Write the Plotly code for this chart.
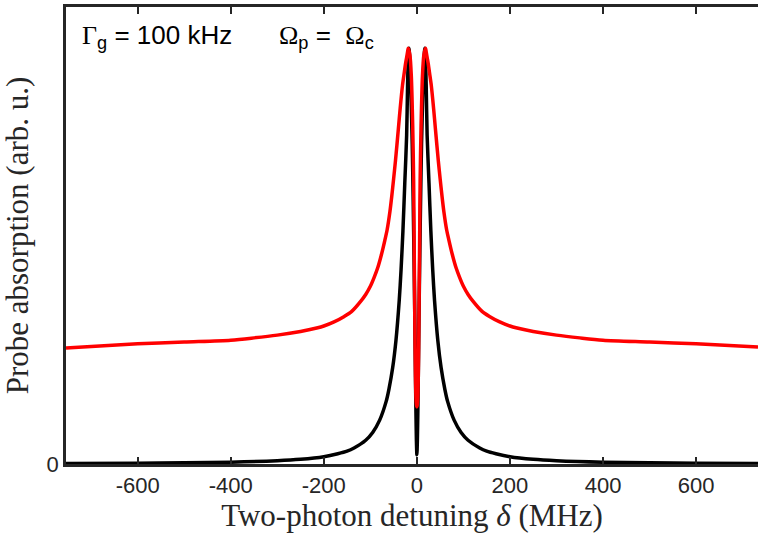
import plotly.graph_objects as go

# Two-photon detuning (MHz) and probe absorption (arb. u.)
detuning_black = [-754, -600, -500, -400, -300, -250, -200, -170, -150, -135, -110, -95, -80, -66, -60, -52, -45, -38, -34, -30, -26, -22, -20, -18.5, -17,
                  -15.5, -13, -10, -8, -6, -4.5, -3, -2, -1, 0,
                  1, 2, 3, 4.5, 6, 8, 10, 13, 15.5,
                  17, 18.5, 20, 22, 26, 30, 34, 38, 45, 52, 60, 66, 80, 95, 110, 135, 150, 170, 200, 250, 300, 400, 500, 600, 733]
absorption_black = [0.0012, 0.0018, 0.0026, 0.004, 0.0072, 0.0103, 0.016, 0.0224, 0.028, 0.035, 0.052, 0.069, 0.096, 0.137, 0.164, 0.211, 0.27, 0.357, 0.425, 0.51, 0.615, 0.72, 0.83, 0.885, 0.91,
                    0.89, 0.82, 0.70, 0.58, 0.44, 0.32, 0.19, 0.11, 0.05, 0.02,
                    0.05, 0.11, 0.19, 0.32, 0.44, 0.58, 0.70, 0.82, 0.89,
                    0.91, 0.885, 0.83, 0.72, 0.615, 0.51, 0.425, 0.357, 0.27, 0.211, 0.164, 0.137, 0.096, 0.069, 0.052, 0.035, 0.028, 0.0224, 0.016, 0.0103, 0.0072, 0.004, 0.0026, 0.0018, 0.0012]

detuning_red = [-754, -600, -500, -400, -350, -300, -250, -213, -200, -178, -156, -140, -120, -110, -100, -92, -84, -76, -69, -64, -58, -54, -50, -46, -43, -40, -36, -31, -27, -24.5, -22, -20, -18.6,
                -15, -12, -9, -7, -6, -5, -4, -3, -2, -1, 0,
                1, 2, 3, 4, 5, 6, 7, 9, 12, 15,
                18.6, 20, 22, 24.5, 27, 31, 36, 40, 43, 46, 50, 54, 58, 64, 69, 76, 84, 92, 100, 110, 120, 140, 156, 178, 200, 213, 250, 300, 350, 400, 500, 600, 733]
absorption_red = [0.254, 0.263, 0.267, 0.271, 0.276, 0.282, 0.290, 0.298, 0.302, 0.311, 0.323, 0.334, 0.357, 0.371, 0.389, 0.408, 0.430, 0.459, 0.489, 0.512, 0.552, 0.586, 0.624, 0.664, 0.697, 0.731, 0.777, 0.828, 0.857, 0.875, 0.890, 0.902, 0.910,
                  0.895, 0.85, 0.74, 0.62, 0.50, 0.38, 0.27, 0.19, 0.145, 0.13, 0.125,
                  0.13, 0.145, 0.19, 0.27, 0.38, 0.50, 0.62, 0.74, 0.85, 0.895,
                  0.910, 0.902, 0.890, 0.875, 0.857, 0.828, 0.777, 0.731, 0.697, 0.664, 0.624, 0.586, 0.552, 0.512, 0.489, 0.459, 0.430, 0.408, 0.389, 0.371, 0.357, 0.334, 0.323, 0.311, 0.302, 0.298, 0.290, 0.282, 0.276, 0.271, 0.267, 0.263, 0.256]

x_tick_vals = [-600, -400, -200, 0, 200, 400, 600]
x_tick_text = ["-600", "-400", "-200", "0", "200", "400", "600"]
y_tick_vals = [0]
y_tick_text = ["0"]

axis_col = "#262626"
serif = "Liberation Serif"
sans = "Liberation Sans"

fig = go.Figure()
fig.add_trace(go.Scatter(x=detuning_black, y=absorption_black, mode="lines",
                         line=dict(color="black", width=3.5, shape="spline", smoothing=0.8), showlegend=False))
fig.add_trace(go.Scatter(x=detuning_red, y=absorption_red, mode="lines",
                         line=dict(color="#ff0000", width=3.5, shape="spline", smoothing=0.8), showlegend=False))

fig.update_layout(
    width=758, height=538,
    margin=dict(l=66, r=0, t=7, b=74),
    plot_bgcolor="white", paper_bgcolor="white",
    font=dict(family=sans, size=22, color=axis_col),
    xaxis=dict(range=[-754, 733], tickvals=x_tick_vals, ticktext=x_tick_text, automargin=False,
               showline=True, linecolor=axis_col, linewidth=2.5, mirror="ticks",
               ticks="inside", ticklen=7, tickwidth=2, tickcolor=axis_col,
               showgrid=False, zeroline=False,
               tickfont=dict(family=sans, size=22, color=axis_col),
               title=dict(text="Two-photon detuning <i>δ</i> (MHz)", standoff=2,
                          font=dict(family=serif, size=31, color=axis_col))),
    yaxis=dict(range=[0, 1], tickvals=y_tick_vals, ticktext=y_tick_text, automargin=False,
               showline=True, linecolor=axis_col, linewidth=2.5, mirror=False,
               ticks="", showgrid=False, zeroline=False,
               tickfont=dict(family=sans, size=22, color=axis_col),
               title=dict(text="Probe absorption (arb. u.)", standoff=10,
                          font=dict(family=serif, size=31, color=axis_col))),
)

fig.add_annotation(xref="paper", yref="paper", x=0.02, y=0.935, xanchor="left", yanchor="middle",
                   text="<span style='font-family:Liberation Serif'>Γ</span><sub>g</sub> = 100 kHz", showarrow=False,
                   font=dict(family=sans, size=26, color="black"))
fig.add_annotation(xref="paper", yref="paper", x=0.305, y=0.935, xanchor="left", yanchor="middle",
                   text="<span style='font-family:Liberation Serif'>Ω</span><sub>p</sub> =  <span style='font-family:Liberation Serif'>Ω</span><sub>c</sub>", showarrow=False,
                   font=dict(family=sans, size=26, color="black"))

fig.write_html("out.html", config={"displayModeBar": False},
               post_script="document.body.style.margin='0';document.body.style.overflow='hidden';")
